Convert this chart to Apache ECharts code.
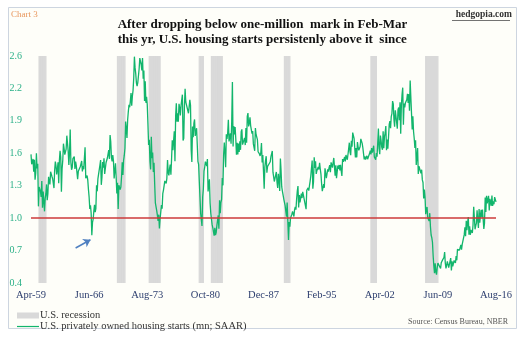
<!DOCTYPE html>
<html><head><meta charset="utf-8">
<script src="https://cdn.jsdelivr.net/npm/echarts@6/dist/echarts.min.js"></script>
<style>html,body{margin:0;padding:0;background:#fff}#c{width:525px;height:339px}</style>
</head><body><div id="c"></div>
<script>
// Monthly U.S. housing starts (mn, SAAR), Apr-1959 .. Aug-2016
const starts1959_69 = [1.590,1.498,1.503,1.547,1.430,1.540,1.355,1.416,1.601,
1.460,1.503,1.109,1.289,1.271,1.247,1.197,1.344,1.097,1.246,1.246,1.063,
1.183,1.226,1.312,1.166,1.228,1.382,1.335,1.312,1.429,1.415,1.385,1.365,
1.361,1.278,1.443,1.524,1.483,1.404,1.450,1.517,1.324,1.533,1.622,1.564,
1.244,1.456,1.534,1.689,1.641,1.588,1.614,1.639,1.763,1.779,1.622,1.491,
1.603,1.820,1.517,1.448,1.467,1.550,1.562,1.569,1.455,1.524,1.486,1.484,
1.361,1.433,1.423,1.438,1.478,1.488,1.529,1.432,1.482,1.452,1.460,1.656,
1.370,1.378,1.394,1.352,1.265,1.194,1.086,1.119,1.046,0.843,0.961,0.990,
1.067,1.123,1.056,1.091,1.304,1.248,1.364,1.407,1.421,1.491,1.538,1.308,
1.380,1.520,1.466,1.554,1.408,1.405,1.512,1.495,1.556,1.569,1.630,1.548,
1.769,1.705,1.561,1.524,1.583,1.528,1.368,1.358,1.507,1.381,1.229,1.327];
const starts1970s = [1.085,1.305,1.319,1.264,1.290,1.385,1.517,1.399,1.534,1.580,1.647,1.893,
1.828,1.741,1.910,1.986,2.049,2.026,2.083,2.158,2.041,2.128,2.182,2.295,
2.494,2.390,2.334,2.249,2.221,2.254,2.252,2.382,2.481,2.485,2.421,2.366,
2.481,2.289,2.365,2.084,2.266,2.067,2.123,2.051,1.874,1.677,1.724,1.526,
1.451,1.752,1.555,1.607,1.426,1.513,1.316,1.142,1.150,1.070,1.026,0.975,
1.032,0.904,0.993,1.005,1.121,1.087,1.226,1.260,1.264,1.344,1.360,1.321,
1.367,1.538,1.421,1.395,1.459,1.495,1.401,1.550,1.720,1.629,1.641,1.804,
1.527,1.943,2.063,1.892,1.971,1.893,2.058,2.020,1.949,2.042,2.042,2.142,
1.718,1.738,2.032,2.197,2.075,2.070,2.092,1.996,1.970,1.981,2.094,2.044,
1.630,1.520,1.847,1.748,1.876,1.913,1.760,1.778,1.832,1.681,1.524,1.498];
const starts1980s = [1.341,1.350,1.047,1.051,0.927,1.196,1.269,1.436,1.471,1.523,1.510,1.482,
1.547,1.246,1.306,1.360,1.140,1.045,1.041,0.940,0.911,0.873,0.837,0.910,
0.843,0.866,0.931,0.917,1.025,0.902,1.166,1.046,1.144,1.173,1.372,1.303,
1.586,1.699,1.606,1.472,1.776,1.733,1.785,1.910,1.710,1.715,1.785,1.688,
1.897,2.260,1.663,1.851,1.774,1.843,1.732,1.586,1.698,1.590,1.689,1.612,
1.711,1.632,1.800,1.821,1.680,1.676,1.684,1.743,1.676,1.834,1.698,1.942,
1.972,1.848,1.876,1.933,1.854,1.847,1.782,1.807,1.687,1.681,1.623,1.833,
1.774,1.784,1.726,1.614,1.628,1.594,1.575,1.605,1.695,1.515,1.583,1.430,
1.271,1.473,1.532,1.573,1.421,1.478,1.467,1.493,1.492,1.522,1.569,1.563,
1.621,1.425,1.422,1.339,1.331,1.397,1.427,1.332,1.279,1.410,1.351,1.251];
const starts1990s = [1.551,1.437,1.289,1.248,1.212,1.177,1.171,1.115,1.110,1.014,1.145,0.969,
0.798,0.965,0.921,1.001,0.996,1.036,1.063,1.049,1.015,1.079,1.103,1.079,
1.176,1.250,1.297,1.099,1.214,1.145,1.139,1.226,1.186,1.244,1.214,1.227,
1.210,1.210,1.083,1.258,1.260,1.280,1.254,1.300,1.343,1.392,1.376,1.533,
1.272,1.337,1.564,1.465,1.526,1.409,1.439,1.450,1.474,1.450,1.511,1.455,
1.407,1.316,1.249,1.267,1.314,1.281,1.461,1.416,1.369,1.369,1.452,1.431,
1.467,1.491,1.424,1.516,1.504,1.467,1.472,1.557,1.475,1.392,1.489,1.370,
1.355,1.486,1.457,1.492,1.442,1.494,1.437,1.390,1.546,1.520,1.510,1.566,
1.525,1.584,1.567,1.540,1.536,1.641,1.698,1.614,1.582,1.715,1.660,1.792,
1.804,1.738,1.737,1.561,1.649,1.562,1.704,1.657,1.628,1.636,1.663,1.733];
const starts2000s = [1.727,1.692,1.651,1.597,1.543,1.572,1.542,1.552,1.577,1.545,1.551,1.532,
1.600,1.625,1.590,1.649,1.605,1.636,1.670,1.567,1.562,1.540,1.602,1.568,
1.698,1.829,1.642,1.592,1.764,1.717,1.655,1.633,1.804,1.648,1.753,1.788,
1.853,1.629,1.726,1.643,1.751,1.867,1.897,1.833,1.939,1.967,2.083,2.057,
1.911,1.846,1.998,2.003,1.981,1.828,2.002,2.024,1.905,2.072,1.782,2.042,
2.144,2.207,1.864,2.061,2.025,2.068,2.054,2.095,2.151,2.065,2.147,1.994,
2.273,2.119,1.969,1.821,1.942,1.802,1.737,1.650,1.720,1.491,1.570,1.649,
1.409,1.480,1.495,1.490,1.415,1.448,1.354,1.330,1.183,1.264,1.197,1.037,
1.084,1.103,1.005,1.013,0.973,1.046,0.923,0.844,0.820,0.777,0.652,0.560,
0.490,0.582,0.505,0.478,0.540,0.585,0.594,0.586,0.585,0.534,0.588,0.581];
const starts2010s = [0.614,0.604,0.636,0.687,0.583,0.536,0.546,0.599,0.594,0.543,0.545,0.539,
0.630,0.517,0.600,0.554,0.561,0.608,0.623,0.585,0.650,0.610,0.711,0.694,
0.723,0.704,0.695,0.753,0.708,0.757,0.740,0.754,0.847,0.915,0.833,0.976,
0.888,0.962,1.010,0.847,0.925,0.846,0.891,0.895,0.863,0.936,1.105,1.002,
0.897,0.928,0.954,1.073,0.981,0.909,1.085,0.958,1.028,1.078,1.007,1.080,
1.071,0.900,0.954,1.190,1.056,1.206,1.137,1.150,1.207,1.071,1.179,1.149,
1.114,1.208,1.113,1.155,1.128,1.195,1.212,1.150];

// NBER recessions (first month, last month)
const recessions = [['Apr-60','Feb-61'],['Dec-69','Nov-70'],['Nov-73','Mar-75'],['Jan-80','Jul-80'],
  ['Jul-81','Nov-82'],['Jul-90','Mar-91'],['Mar-01','Nov-01'],['Dec-07','Jun-09']];

const yTickLabels = ['0.4','0.7','1.0','1.3','1.6','1.9','2.2','2.6'];
const yMin = 0.4, yMax = 2.5, yStep = 0.3;
const threshold = 1.0;
const arrowFrom = {month:'Oct-64', value:0.724};
const arrowTo = {month:'Aug-66', value:0.80};

const starts = [].concat(starts1959_69, starts1970s, starts1980s, starts1990s, starts2000s, starts2010s);
const monNames = ['Jan','Feb','Mar','Apr','May','Jun','Jul','Aug','Sep','Oct','Nov','Dec'];
const months = [];
for (let i = 0; i < starts.length; i++) {
  const m = 3 + i, y = 1959 + Math.floor(m / 12);
  months.push(monNames[m % 12] + '-' + String(y % 100).padStart(2, '0'));
}
const recessionBars = months.map(() => '-');
recessions.forEach(r => {
  const a = months.indexOf(r[0]), b = months.indexOf(r[1]);
  for (let i = a; i <= b; i++) recessionBars[i] = yMax;
});

const serif = '"Liberation Serif","DejaVu Serif",serif';
const chart = echarts.init(document.getElementById('c'), null, {renderer:'canvas'});
chart.setOption({
  animation:false,
  backgroundColor:'#ffffff',
  graphic:[
    {type:'rect', shape:{x:8.5,y:7.5,width:508,height:321}, style:{fill:'#fefef9', stroke:'#cdd5e0', lineWidth:1}, z:-10},
    {type:'text', left:11, top:10, style:{text:'Chart 3', fill:'#e8965c', font:'9px '+serif}},
    {type:'text', right:13, top:10, style:{text:'hedgopia.com', fill:'#333', font:'bold 9.5px '+serif}},
    {type:'rect', shape:{x:452,y:20,width:58,height:0.8}, style:{fill:'#444'}},
    {type:'text', left:'center', top:17, style:{text:'After dropping below one-million  mark in Feb-Mar\nthis yr, U.S. housing starts persistenly above it  since', fill:'#111', font:'bold 13px '+serif, align:'center', lineHeight:15}, x:-7},
    {type:'text', right:17, top:318, style:{text:'Source: Census Bureau, NBER', fill:'#555', font:'8px '+serif}}
  ],
  legend:{
    orient:'vertical', left:12, top:305, itemGap:0, itemWidth:22, itemHeight:6,
    textStyle:{fontFamily:serif, fontSize:10.5, color:'#333', padding:[0,0,0,-4], lineHeight:11},
    data:[{name:'U.S. recession', icon:'rect'},
          {name:'U.S. privately owned housing starts (mn; SAAR)', icon:'path://M0,2.4H22V3.6H0Z'}]
  },
  grid:{left:31, right:29, top:56, bottom:56},
  xAxis:{
    type:'category', data:months, boundaryGap:false,
    axisLine:{show:false}, axisTick:{show:false}, splitLine:{show:false},
    axisLabel:{interval:85, color:'#2f4070', fontFamily:serif, fontSize:10.5, margin:7, showMaxLabel:true}
  },
  yAxis:{
    type:'value', min:yMin, max:yMax, interval:yStep,
    axisLine:{show:false}, axisTick:{show:false}, splitLine:{show:false},
    axisLabel:{color:'#2bb088', fontFamily:serif, fontSize:10, margin:9,
      formatter:function(v){return yTickLabels[Math.round((v-yMin)/yStep)] || '';}}
  },
  series:[
    {
      name:'U.S. recession', type:'bar', data:recessionBars, barWidth:1.3,
      itemStyle:{color:'#d9d9d9'}, z:1, silent:true,
      markLine:{silent:true, symbol:['none','arrow'], symbolSize:[7,7],
        lineStyle:{color:'#5080c0', width:1.5, type:'solid'}, label:{show:false},
        data:[[{coord:[arrowFrom.month, arrowFrom.value]},{coord:[arrowTo.month, arrowTo.value]}]]}
    },
    {
      name:'U.S. privately owned housing starts (mn; SAAR)', type:'line', data:starts,
      symbol:'none', z:3, color:'#12b56c',
      lineStyle:{color:'#12b56c', width:1.3},
      markLine:{silent:true, symbol:'none', label:{show:false},
        lineStyle:{color:'#cc3a3a', width:1.5, type:'solid'},
        data:[{yAxis:threshold}]}
    }
  ]
});
</script></body></html>
